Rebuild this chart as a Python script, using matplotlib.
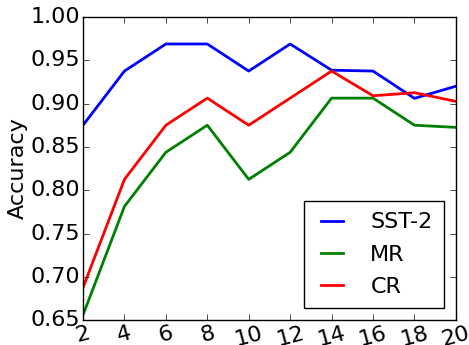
import matplotlib
matplotlib.use('Agg')
import matplotlib.pyplot as plt

plt.style.use('classic')

# Data
steps = [2, 4, 6, 8, 10, 12, 14, 16, 18, 20]
sst2 = [0.875, 0.9375, 0.96875, 0.96875, 0.9375, 0.96875, 0.9385, 0.9375, 0.906, 0.920]
mr = [0.656, 0.78125, 0.84375, 0.875, 0.8125, 0.84375, 0.90625, 0.90625, 0.875, 0.8725]
cr = [0.6875, 0.8125, 0.875, 0.90625, 0.875, 0.90625, 0.9375, 0.909, 0.9125, 0.9025]

fig = plt.figure(figsize=(4.69, 3.45), dpi=100, facecolor='white')
ax = fig.add_axes([0.177, 0.072, 0.795, 0.879])

ax.plot(steps, sst2, color='b', linewidth=2, label='SST-2')
ax.plot(steps, mr, color='g', linewidth=2, label='MR')
ax.plot(steps, cr, color='r', linewidth=2, label='CR')

ax.set_xlim(2, 20)
ax.set_ylim(0.65, 1.00)
ax.set_xticks(steps)
ax.set_yticks([0.65, 0.70, 0.75, 0.80, 0.85, 0.90, 0.95, 1.00])
ax.tick_params(labelsize=16, pad=2)
plt.setp(ax.get_xticklabels(), rotation=15)
ax.set_ylabel('Accuracy', fontsize=16, labelpad=2)

ax.legend(loc='lower right', fontsize=16, handlelength=1.55, borderpad=0.5,
          handletextpad=0.95, labelspacing=0.55, borderaxespad=0.55)

fig.savefig('out.png', dpi=100, facecolor='white')
